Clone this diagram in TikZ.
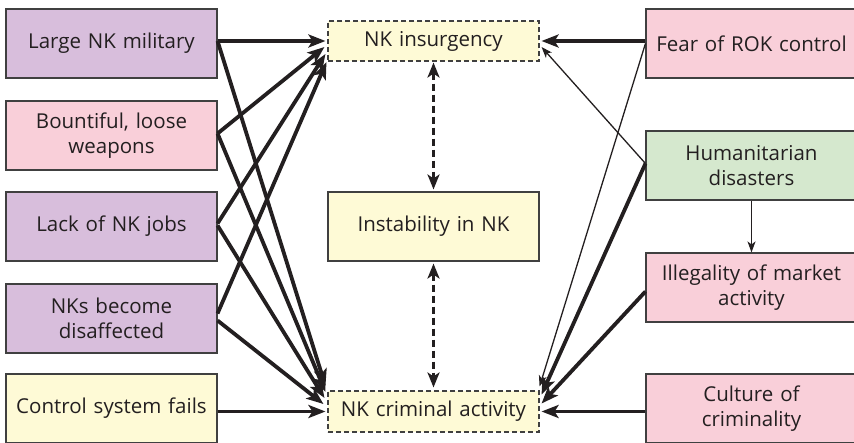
\documentclass[tikz,border=0pt]{standalone}
\usepackage{fontspec}
\setmainfont{Open Sans}
\usetikzlibrary{arrows.meta,calc}

\definecolor{purp}{RGB}{216,190,220}
\definecolor{pinkbox}{RGB}{249,207,217}
\definecolor{yelbox}{RGB}{254,250,214}
\definecolor{greenbox}{RGB}{213,232,206}
\definecolor{edge}{RGB}{64,64,64}
\definecolor{ink}{RGB}{35,31,32}

\begin{document}
\begin{tikzpicture}[x=1pt,y=-1pt,
  box/.style={draw=edge, line width=1.1pt, minimum width=211pt, text width=207pt,
    align=center, inner sep=0pt, text=ink, font=\fontsize{20.5}{25}\selectfont},
  tall/.style={box, minimum height=69pt},
  flat/.style={box, minimum height=40pt, dashed, dash pattern=on 5pt off 3pt},
  strong/.style={draw=ink, line width=3.8pt,
    -{Stealth[length=17pt,width=13pt,inset=4pt]}},
  weak/.style={draw=ink, line width=1.3pt,
    -{Stealth[length=11pt,width=8pt,inset=3pt]}},
  link/.style={draw=ink, line width=3.2pt, dash pattern=on 7pt off 4pt,
    {Stealth[length=15pt,width=12pt,inset=4pt]}-{Stealth[length=15pt,width=12pt,inset=4pt]}}
]
\useasboundingbox (0,0) rectangle (854,442);

% left column of causes
\node[tall, fill=purp]    (mil)  at (111.5,43.5)  {Large NK military};
\node[tall, fill=pinkbox] (bnt)  at (111.5,135.5) {Bountiful, loose\\weapons};
\node[tall, fill=purp]    (jobs) at (111.5,226.5) {Lack of NK jobs};
\node[tall, fill=purp]    (dis)  at (111.5,318.5) {NKs become\\disaffected};
\node[tall, fill=yelbox]  (ctl)  at (111.5,408.5) {Control system fails};

% middle column of outcomes
\node[flat, fill=yelbox]  (ins)  at (433.5,41)    {NK insurgency};
\node[tall, fill=yelbox]  (inst) at (433.5,226.5) {Instability in NK};
\node[flat, fill=yelbox, minimum height=41pt] (crim) at (433.5,411.5) {NK criminal activity};

% right column of causes
\node[tall, fill=pinkbox]  (fear) at (751.5,43.5)  {Fear of ROK control};
\node[tall, fill=greenbox] (hum)  at (751.5,165.5) {Humanitarian\\disasters};
\node[tall, fill=pinkbox]  (ill)  at (751.5,287.5) {Illegality of market\\activity};
\node[tall, fill=pinkbox]  (cul)  at (751.5,408.5) {Culture of\\criminality};

% left causes to insurgency
\draw[strong] (mil.east |- ins.west) -- ($(ins.west)+(-2,0)$);
\draw[strong] ($(bnt.east)+(0,-2)$) -- ($(ins.west)+(-3,6)$);
\draw[strong] ($(jobs.east)+(0,-3)$) -- ($(ins.west)+(-2,13)$);
\draw[strong] ($(dis.east)+(0,-5)$) -- ($(ins.west)+(-1,21)$);

% left causes to criminal activity
\draw[strong] (mil.east |- ins.west) -- ($(crim.west)+(-2,-25.5)$);
\draw[strong] ($(bnt.east)+(0,-2)$) -- ($(crim.west)+(-2,-19.5)$);
\draw[strong] ($(jobs.east)+(0,-1)$) -- ($(crim.west)+(-3,-13.5)$);
\draw[strong] ($(dis.east)+(0,2)$) -- ($(crim.west)+(-4,-7.5)$);
\draw[strong] (ctl.east |- crim.west) -- ($(crim.west)+(-2,0)$);

% right causes
\draw[strong] (fear.west |- ins.east) -- ($(ins.east)+(2,0)$);
\draw[weak]   (fear.west) -- ($(crim.east)+(0,-25)$);
\draw[weak]   ($(hum.west)+(0,-2)$) -- ($(ins.east)+(2,6)$);
\draw[strong] ($(hum.west)+(0,-2)$) -- ($(crim.east)+(2,-17)$);
\draw[strong] ($(ill.west)+(0,4)$) -- ($(crim.east)+(2,-8)$);
\draw[strong] (cul.west |- crim.east) -- ($(crim.east)+(2,0)$);
\draw[weak]   (hum.south) -- (ill.north);

% two-way links through instability
\draw[link] ($(ins.south)+(0,1)$) -- ($(inst.north)+(0,-2)$);
\draw[link] ($(inst.south)+(0,2)$) -- ($(crim.north)+(0,-3)$);
\end{tikzpicture}
\end{document}
